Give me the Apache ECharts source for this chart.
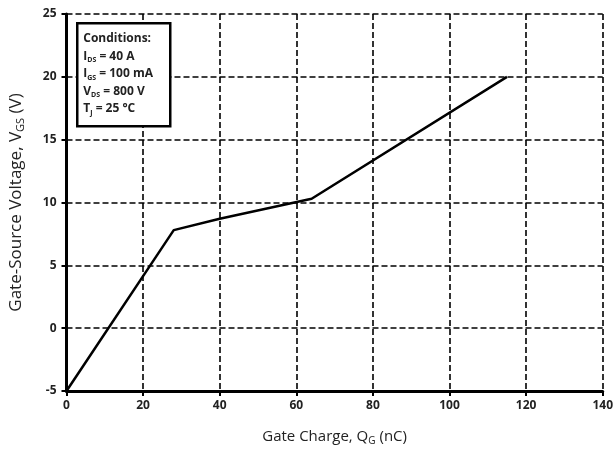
<!DOCTYPE html>
<html>
<head>
<meta charset="utf-8">
<script src="https://cdn.jsdelivr.net/npm/echarts@6/dist/echarts.min.js"></script>
<style>
  html, body { margin: 0; padding: 0; background: #fff; }
  #chart { width: 616px; height: 452px; }
</style>
</head>
<body>
<div id="chart"></div>
<script>
// gate charge (nC) vs gate-source voltage (V)
const gateCharge = [0, 28, 40, 64, 115];
const gateVoltage = [-5, 7.8, 8.7, 10.3, 20];
const xTicks = [0, 20, 40, 60, 80, 100, 120, 140];
const yTicks = [-5, 0, 5, 10, 15, 20, 25];
const conditions = ['Conditions:', 'I|DS| = 40 A', 'I|GS| = 100 mA', 'V|DS| = 800 V', 'T|J| = 25 °C'];

const font = '"Open Sans", "Noto Sans", sans-serif';
const chart = echarts.init(document.getElementById('chart'));

// 把 "I|DS| = 40 A" 变成富文本, 中间一段是下标
const toRich = (s) => {
  const p = s.split('|');
  if (p.length < 3) return '{h|' + s + '}';
  return '{b|' + p[0] + '}{sub|' + p[1] + '}{b|' + p[2] + '}';
};

const gridLine = { show: true, lineStyle: { color: '#000', type: [6, 3], width: 1.6 } };

const nameRich = (size) => ({
  a: { fontFamily: font, fontSize: size, color: '#222' },
  s: { fontFamily: font, fontSize: Math.round(size * 0.65), color: '#222', verticalAlign: 'bottom', padding: [Math.round(size * 0.55), 0, 0, 0] }
});

chart.setOption({
  animation: false,
  grid: { left: 66, right: 13, top: 14, bottom: 61 },
  xAxis: {
    type: 'value', min: 0, max: 140, interval: 20,
    name: '{a|Gate Charge, Q}{s|G}{a| (nC)}',
    nameLocation: 'middle', nameGap: 37,
    nameTextStyle: { rich: nameRich(15) },
    axisLine: { show: true, onZero: false, lineStyle: { color: '#000', width: 3 } },
    axisTick: { show: true, inside: false, length: 5, lineStyle: { color: '#000', width: 2 } },
    axisLabel: {
      fontFamily: font, fontSize: 12, color: '#222', fontWeight: 'bold', margin: 9,
      formatter: (v) => xTicks.includes(v) ? String(v) : ''
    },
    splitLine: gridLine
  },
  yAxis: {
    type: 'value', min: -5, max: 25, interval: 5,
    name: '{a|Gate-Source Voltage, V}{s|GS}{a| (V)}',
    nameLocation: 'middle', nameGap: 40, nameRotate: 90,
    nameTextStyle: { rich: nameRich(17) },
    axisLine: { show: true, onZero: false, lineStyle: { color: '#000', width: 3 } },
    axisTick: { show: true, inside: false, length: 5, lineStyle: { color: '#000', width: 2 } },
    axisLabel: {
      fontFamily: font, fontSize: 12, color: '#222', fontWeight: 'bold', margin: 10,
      formatter: (v) => yTicks.includes(v) ? String(v) : ''
    },
    splitLine: gridLine
  },
  series: [{
    type: 'line',
    data: gateCharge.map((q, i) => [q, gateVoltage[i]]),
    showSymbol: false,
    lineStyle: { color: '#000', width: 2.5 },
    z: 5
  }],
  graphic: [{
    type: 'group', left: 76, top: 22, z: 100, zlevel: 1,
    children: [
      { type: 'rect', z: 100, zlevel: 1, shape: { x: 0, y: 0, width: 93, height: 103 },
        style: { fill: '#fff', stroke: '#000', lineWidth: 2.5 } },
      { type: 'text', z: 101, zlevel: 1, left: 6, top: 7,
        style: {
          text: conditions.map(toRich).join('\n'),
          lineHeight: 17.5,
          rich: {
            h: { fontFamily: font, fontSize: 12, fontWeight: 'bold', fill: '#222', lineHeight: 17.5 },
            b: { fontFamily: font, fontSize: 12, fontWeight: 'bold', fill: '#222', lineHeight: 17.5 },
            sub: { fontFamily: font, fontSize: 7, fontWeight: 'bold', fill: '#222', lineHeight: 17.5, padding: [7, 0, 0, 0] }
          }
        } }
    ]
  }]
});
</script>
</body>
</html>
